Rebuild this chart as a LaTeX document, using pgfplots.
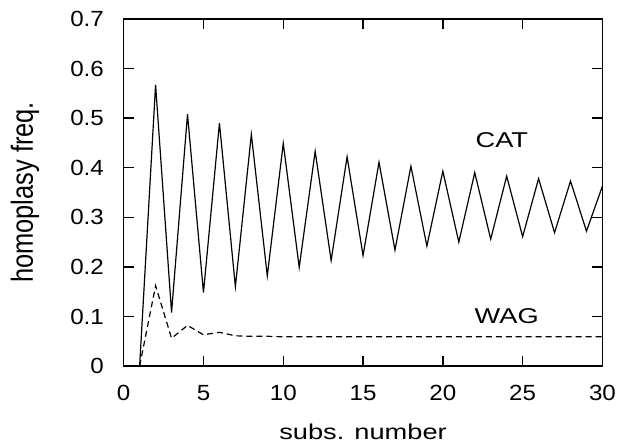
\documentclass[border=0pt]{standalone}
\usepackage{fontspec}
\setmainfont{Liberation Sans}[FakeStretch=1.27]
\newfontfamily\ylfont{Liberation Sans}
\newfontfamily\tickfont{Liberation Sans}[FakeStretch=1.1]
\usepackage{pgfplots}
\pgfplotsset{compat=1.18}
\begin{document}
\fontsize{21.5}{26}\selectfont
\begin{tikzpicture}
\begin{axis}[
  scale only axis, width=480pt, height=348pt,
  xmin=0, xmax=30, ymin=0, ymax=0.7,
  xtick={0,5,...,30}, ytick={0,0.1,...,0.7},
  yticklabels={0,0.1,0.2,0.3,0.4,0.5,0.6,0.7},
  tick align=inside, major tick length=10pt,
  axis line style={line width=1.5pt}, every tick/.style={line width=1.5pt, black},
  /pgf/number format/assume math mode=true,
  ticklabel style={font=\tickfont\fontsize{22}{26}\selectfont},
  xticklabel style={anchor=base, yshift=-35pt},
  yticklabel style={xshift=-12.5pt},
  xlabel={subs. number}, ylabel={homoplasy freq.},
  xlabel style={font=\fontsize{21.5}{26}\selectfont, at={([yshift=-74pt]axis description cs:0.5,0)}, anchor=base},
  ylabel style={font=\ylfont\fontsize{25.5}{30}\selectfont, at={([xshift=-91pt]axis description cs:0,0.5)}, anchor=base, yscale=1.2},
]
\addplot[black, line width=1.2pt] coordinates {
(0,0) (1,0) (2,0.567) (3,0.108) (4,0.508) (5,0.148) (6,0.49) (7,0.16) (8,0.467) (9,0.182)
(10,0.449) (11,0.199) (12,0.433) (13,0.213) (14,0.422) (15,0.223) (16,0.411) (17,0.234)
(18,0.403) (19,0.242) (20,0.393) (21,0.250) (22,0.39) (23,0.256) (24,0.383) (25,0.261)
(26,0.378) (27,0.269) (28,0.373) (29,0.272) (30,0.363)};
\addplot[black, line width=1.2pt, dash pattern=on 6pt off 4pt] coordinates {
(1,0) (2,0.162) (3,0.056) (4,0.082) (5,0.063) (6,0.068) (7,0.061) (8,0.060) (9,0.060)
(10,0.059) (11,0.059) (12,0.059) (13,0.059) (14,0.059) (15,0.059) (16,0.059) (17,0.059)
(18,0.059) (19,0.059) (20,0.059) (21,0.059) (22,0.059) (23,0.059) (24,0.059) (25,0.059)
(26,0.059) (27,0.059) (28,0.059) (29,0.059) (30,0.059)};
\node at (axis cs:23.7,0.456) {CAT};
\node at (axis cs:24.0,0.1006) {WAG};
\end{axis}
\useasboundingbox (-124pt,-78pt) rectangle (499pt,367pt);
\end{tikzpicture}
\end{document}
